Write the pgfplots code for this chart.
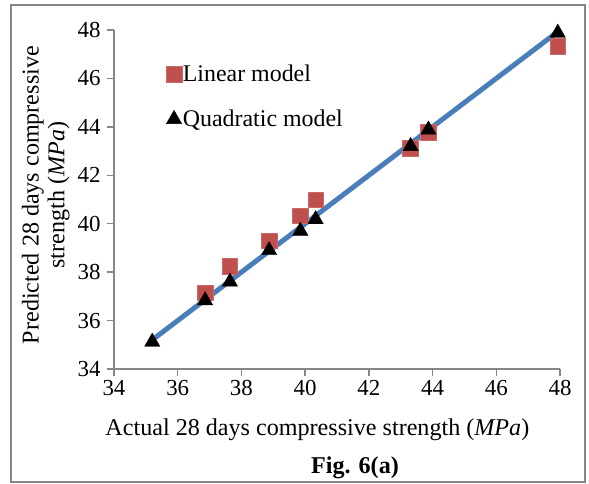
\documentclass[border=0pt]{standalone}
\usepackage{pgfplots}
\pgfplotsset{compat=1.18}
\usepackage{fontspec}
\setmainfont{Liberation Serif}
\definecolor{lin}{HTML}{C0504D}
\definecolor{trend}{HTML}{4A7EBB}
\definecolor{axgray}{HTML}{868686}
\begin{document}
\begin{tikzpicture}[x=1bp,y=1bp]
\useasboundingbox (-114,-115) rectangle (475,369);
\draw[axgray, line width=1.3bp] (-103,-113) rectangle (471,364);
\begin{axis}[
  at={(0,0)}, anchor=south west,
  scale only axis, width=446bp, height=339bp,
  xmin=34, xmax=48, ymin=34, ymax=48,
  xtick={34,36,...,48}, ytick={34,36,...,48},
  axis x line*=bottom, axis y line*=left,
  axis line style={axgray, line width=1.3bp, -},
  tick style={axgray, line width=1.3bp},
  major tick length=7bp,
  tick align=outside,
  /pgf/number format/assume math mode=true,
  ticklabel style={font=\fontsize{23}{25}\selectfont, text=black},
  yticklabel style={xshift=-3bp},
  xticklabel style={yshift=-1bp},
  label style={font=\fontsize{24.2}{26}\selectfont},
  xlabel={Actual 28 days compressive strength (\textit{MPa})},
  ylabel={Predicted 28 days compressive\\strength (\textit{MPa})},
  xlabel style={at={(axis description cs:0.456,-0.18)}, anchor=center},
  ylabel style={at={(axis description cs:-0.153,0.513)}, anchor=center, align=center},
  legend style={at={(axis description cs:0.11,0.906)}, anchor=north west, draw=none, fill=none,
    font=\fontsize{24}{26}\selectfont, row sep=25bp, nodes={inner sep=1bp}},
  legend cell align=left,
  legend image code/.code={\draw[mark repeat=2,mark phase=2,#1] plot coordinates {(0bp,0bp)(8bp,0bp)(16bp,0bp)};},
]
\addplot[trend, line width=5bp, forget plot] coordinates {(35.2,35.2) (47.93,47.93)};
\addplot[only marks, mark=square*, mark size=7.8bp, mark options={fill=lin, draw=lin!85!white, line width=0.6bp}] coordinates {
(36.86,37.15) (37.64,38.23) (38.87,39.30) (39.85,40.33) (40.33,40.98) (43.31,43.12) (43.87,43.77) (47.93,47.32)};
\addlegendentry{Linear model}
\addplot[only marks, mark=triangle*, mark size=8.8bp, mark options={fill=black, draw=black, line width=0.4bp}] coordinates {
(35.2,35.12) (36.86,36.83) (37.64,37.6) (38.87,38.9) (39.85,39.7) (40.33,40.18) (43.31,43.2) (43.87,43.88) (47.93,47.88)};
\addlegendentry{Quadratic model}
\end{axis}
\node[font=\fontsize{24.2}{26}\selectfont\bfseries] at (241,-99) {Fig. 6(a)};
\end{tikzpicture}
\end{document}
